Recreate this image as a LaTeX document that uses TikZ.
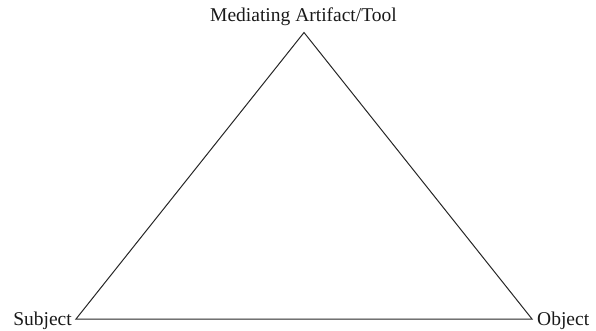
\documentclass[tikz,border=0pt]{standalone}
\usepackage{fontspec}
\setmainfont{Liberation Serif}
\begin{document}
\begin{tikzpicture}[x=1pt,y=-1pt,
  label text/.style={inner sep=0pt, font=\fontsize{19.5}{22}\selectfont, text=black!90},
  edge line/.style={draw=black!85, line width=1pt, line join=miter}]
  \useasboundingbox (0,0) rectangle (596,331);
  % corners of the activity triangle
  \coordinate (tool) at (304,32.5);
  \coordinate (subj) at (76,319);
  \coordinate (obj) at (532,319);
  % labels
  \node[label text, anchor=base] (toollbl) at (303.5,22) {Mediating Artifact/Tool};
  \node[label text, anchor=base east] (subjlbl) at (72,325.5) {Subject};
  \node[label text, anchor=base west] (objlbl) at (537,325.5) {Object};
  % triangle
  \draw[edge line] (tool) -- (obj) -- (subj) -- cycle;
\end{tikzpicture}
\end{document}
